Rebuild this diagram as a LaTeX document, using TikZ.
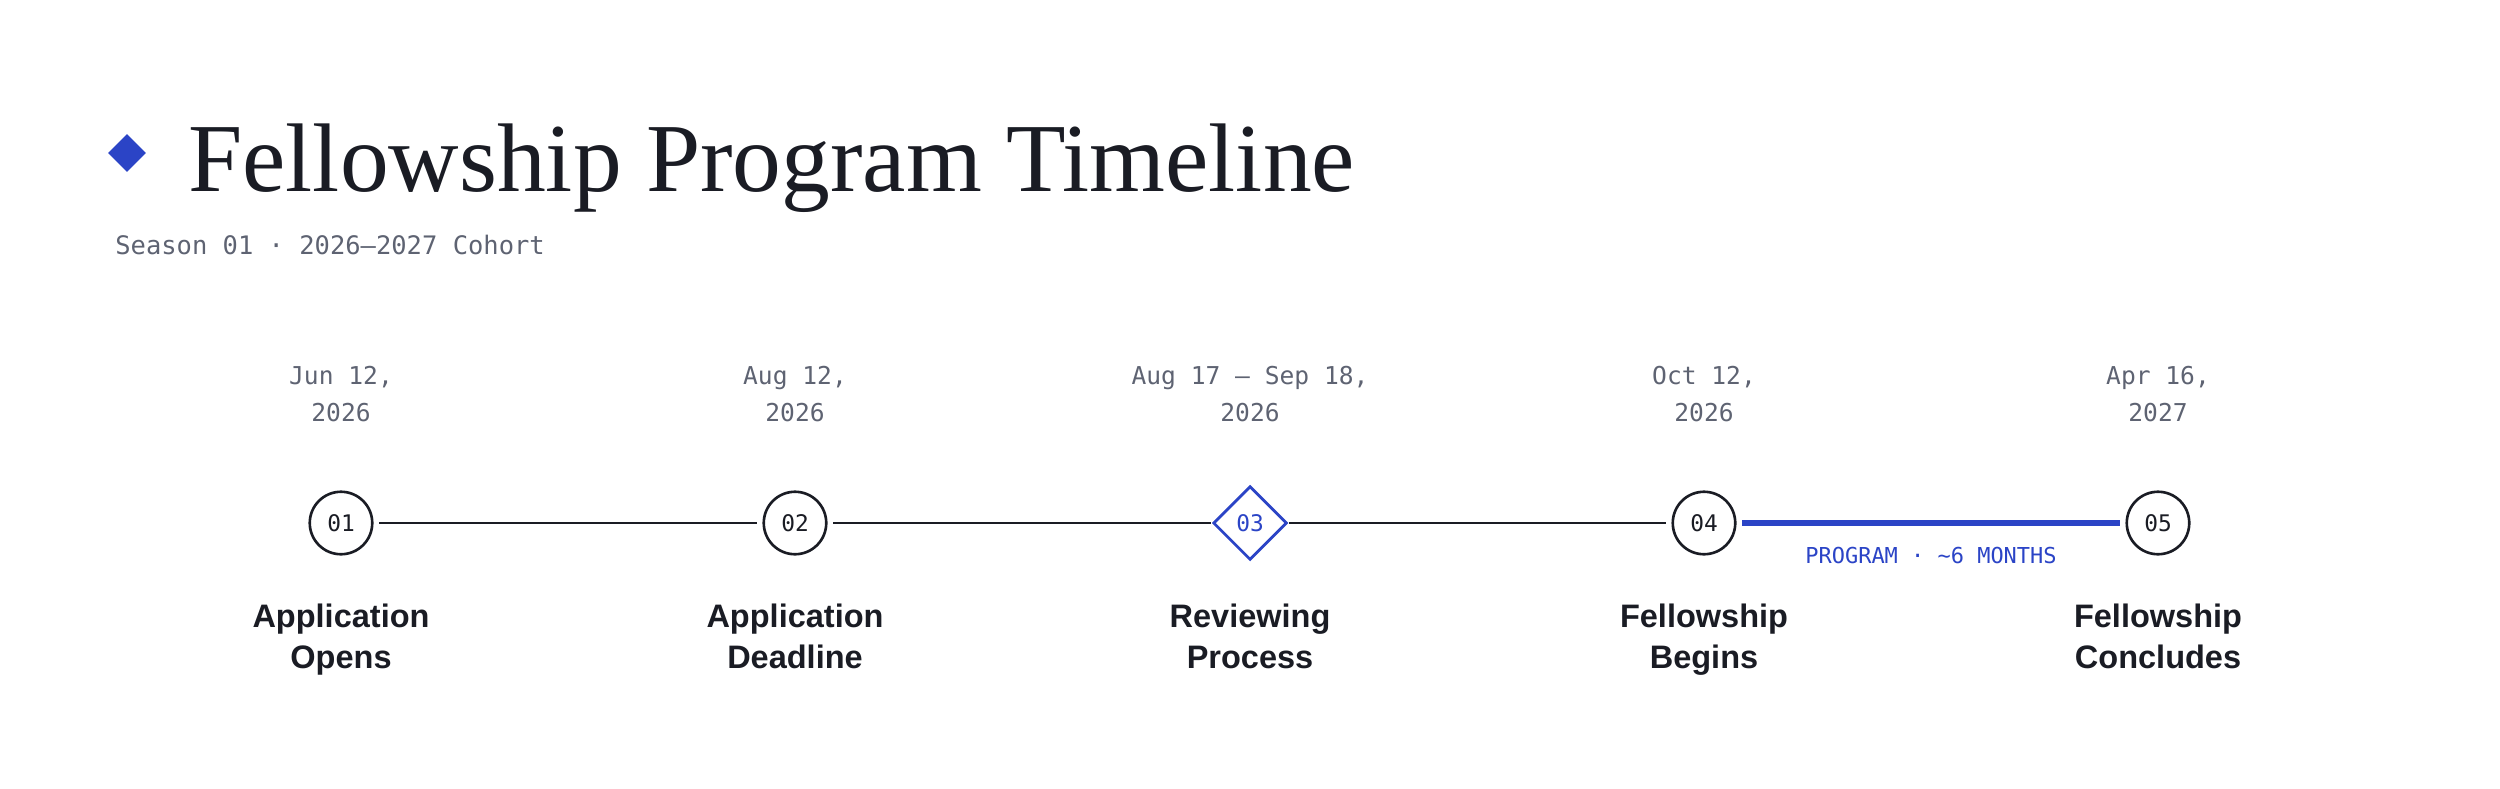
\documentclass[tikz,border=0pt]{standalone}
\usepackage{fontspec}
\setmainfont{Liberation Serif}
\setsansfont{Liberation Sans}
\setmonofont{DejaVu Sans Mono}
\usepackage{tikz}
\usetikzlibrary{shapes.geometric}
\definecolor{ink}{HTML}{1A1C24}
\definecolor{royal}{HTML}{2B44C6}
\definecolor{slate}{HTML}{5E6372}

\begin{document}
\begin{tikzpicture}[x=0.02cm,y=-0.02cm]
          %% TIMELINE
          \useasboundingbox (0,0) rectangle (2500,788);

          \tikzstyle{every node}=[inner sep=0pt]
          \tikzstyle{every edge}=[-,draw=ink,line width=1.1pt]
          \tikzstyle{milestone}=[circle,draw=ink,line width=1.5pt,minimum size=1.25cm,outer sep=4pt,
            text=ink,font=\ttfamily\fontsize{13}{14}\selectfont]
          \tikzstyle{review}=[diamond,draw=royal,line width=1.6pt,minimum size=1.48cm,outer sep=1pt,
            text=royal,font=\ttfamily\fontsize{13}{14}\selectfont]
          \tikzstyle{datelbl}=[align=center,text=slate,font=\ttfamily\fontsize{14}{20.5}\selectfont]
          \tikzstyle{steplbl}=[align=center,text=ink,font=\sffamily\bfseries\fontsize{18.5}{23.3}\selectfont]

          % titre
          \node[diamond,fill=royal,minimum size=0.76cm] (mark) at (127,153) {};
          \node[anchor=base west,text=ink,font=\fontsize{55.5}{60}\selectfont] (title) at (188,191)
          {Fellowship Program Timeline};
          \node[anchor=base west,text=slate,font=\ttfamily\fontsize{14.5}{16}\selectfont] (season) at (115,254)
          {Season 01 · 2026—2027 Cohort};

          % jalons
          \node[milestone] (M1) at (341,523) {01};
          \node[milestone] (M2) at (795,523) {02};
          \node[review]    (M3) at (1250,523) {03};
          \node[milestone] (M4) at (1704,523) {04};
          \node[milestone] (M5) at (2158,523) {05};

          \path (M1) edge (M2)
          (M2) edge (M3)
          (M3) edge (M4);

          \path (M4) edge [draw=royal,line width=3.2pt] node[anchor=base,yshift=-22.8pt,text=royal,
            font=\ttfamily\fontsize{12.5}{14}\selectfont]
          {PROGRAM · \textasciitilde6 MONTHS}
          (M5);

          % dates et etapes
          \foreach \x/\when/\what [count=\i] in {341/{Jun 12,\\2026}/{Application\\Opens},
            795/{Aug 12,\\2026}/{Application\\Deadline},
            1250/{Aug 17 – Sep 18,\\2026}/{Reviewing\\Process},
            1704/{Oct 12,\\2026}/{Fellowship\\Begins},
            2158/{Apr 16,\\2027}/{Fellowship\\Concludes}} {
            \node[datelbl,anchor=base] (date\i) at (\x,421) {\when};
            \node[steplbl,anchor=base] (step\i) at (\x,668) {\what};
          }
        \end{tikzpicture}
\end{document}
